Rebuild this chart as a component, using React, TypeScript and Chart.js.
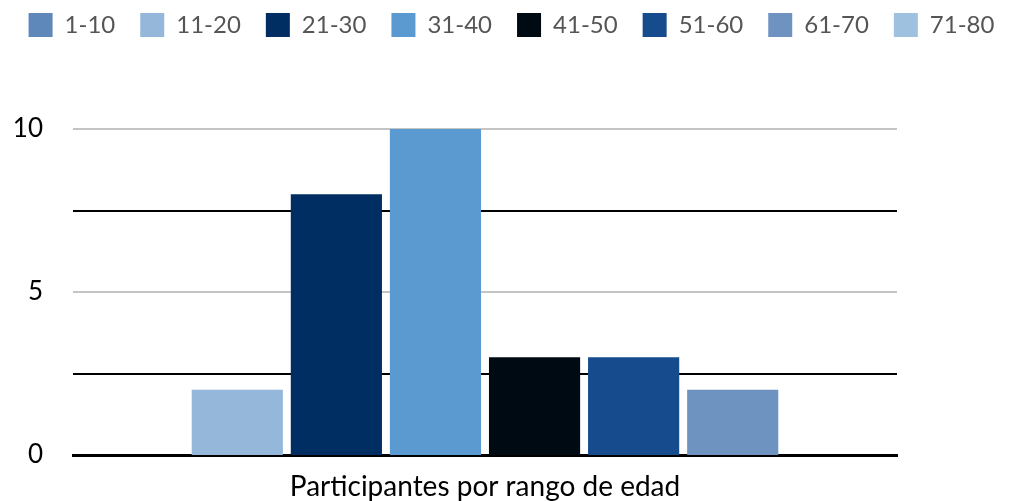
import React, { useEffect, useRef } from "react";
import { Chart, registerables } from "chart.js";

Chart.register(...registerables);

const categories = ["Participantes por rango de edad"];
const seriesLabels = ["1-10", "11-20", "21-30", "31-40", "41-50", "51-60", "61-70", "71-80"];
const seriesValues = [0, 2, 8, 10, 3, 3, 2, 0];
const seriesColors = ["#5e87ba", "#95b7da", "#002d62", "#5a9ad0", "#000a12", "#164b8e", "#6e93c0", "#9fc1e0"];
const yTickLabels = [0, 5, 10];

const FONT = "Lato, 'Noto Sans', sans-serif";

export default function App() {
  const ref = useRef<HTMLCanvasElement | null>(null);
  useEffect(() => {
    document.body.style.margin = "0";
    if (!ref.current) return;
    const legendGap = {
      id: "legendGap",
      beforeInit(chart: any) {
        const orig = chart.legend.fit;
        chart.legend.fit = function () {
          orig.bind(chart.legend)();
          this.height += 82;
        };
      },
    };
    const chart = new Chart(ref.current, {
      type: "bar",
      data: {
        labels: categories,
        datasets: seriesLabels.map((l, i) => ({
          label: l,
          data: [seriesValues[i]],
          backgroundColor: seriesColors[i],
          borderWidth: 0,
          categoryPercentage: 0.962,
          barPercentage: 0.92,
        })),
      },
      plugins: [legendGap],
      options: {
        animation: false,
        responsive: false,
        maintainAspectRatio: false,
        layout: { padding: { left: 0, right: 0, top: -12, bottom: 0 } },
        plugins: {
          tooltip: { enabled: false },
          legend: {
            position: "top",
            align: "center",
            labels: {
              boxWidth: 24,
              boxHeight: 24,
              padding: 25,
              color: "#555555",
              font: { family: FONT, size: 24 },
            },
          },
        },
        scales: {
          x: {
            grid: { display: false, drawTicks: false },
            border: { display: true, color: "#000000", width: 3 },
            afterFit: (s: any) => {
              s.height = 46;
            },
            ticks: { color: "#000000", font: { family: FONT, size: 28 }, padding: 15 },
          },
          y: {
            min: 0,
            max: 10,
            border: { display: false },
            afterFit: (s: any) => {
              s.width = 73;
            },
            grid: {
              drawTicks: false,
              color: (ctx: any) => (ctx.tick && ctx.tick.value % 5 === 0 ? "#c4c4c4" : "#000000"),
              lineWidth: (ctx: any) => (ctx.tick && ctx.tick.value === 0 ? 0 : 2),
            },
            ticks: {
              stepSize: 2.5,
              padding: 30,
              color: "#000000",
              font: { family: FONT, size: 26 },
              callback: (v: any) => (yTickLabels.includes(Number(v)) ? String(v) : ""),
            },
          },
          yRight: {
            position: "right",
            display: true,
            grid: { display: false, drawTicks: false },
            border: { display: false },
            ticks: { display: false },
            afterFit: (s: any) => {
              s.width = 126;
            },
          },
        },
      },
    });
    return () => chart.destroy();
  }, []);
  return (
    <div style={{ width: 1023, height: 501 }}>
      <canvas ref={ref} width={1023} height={501} style={{ display: "block" }} />
    </div>
  );
}
